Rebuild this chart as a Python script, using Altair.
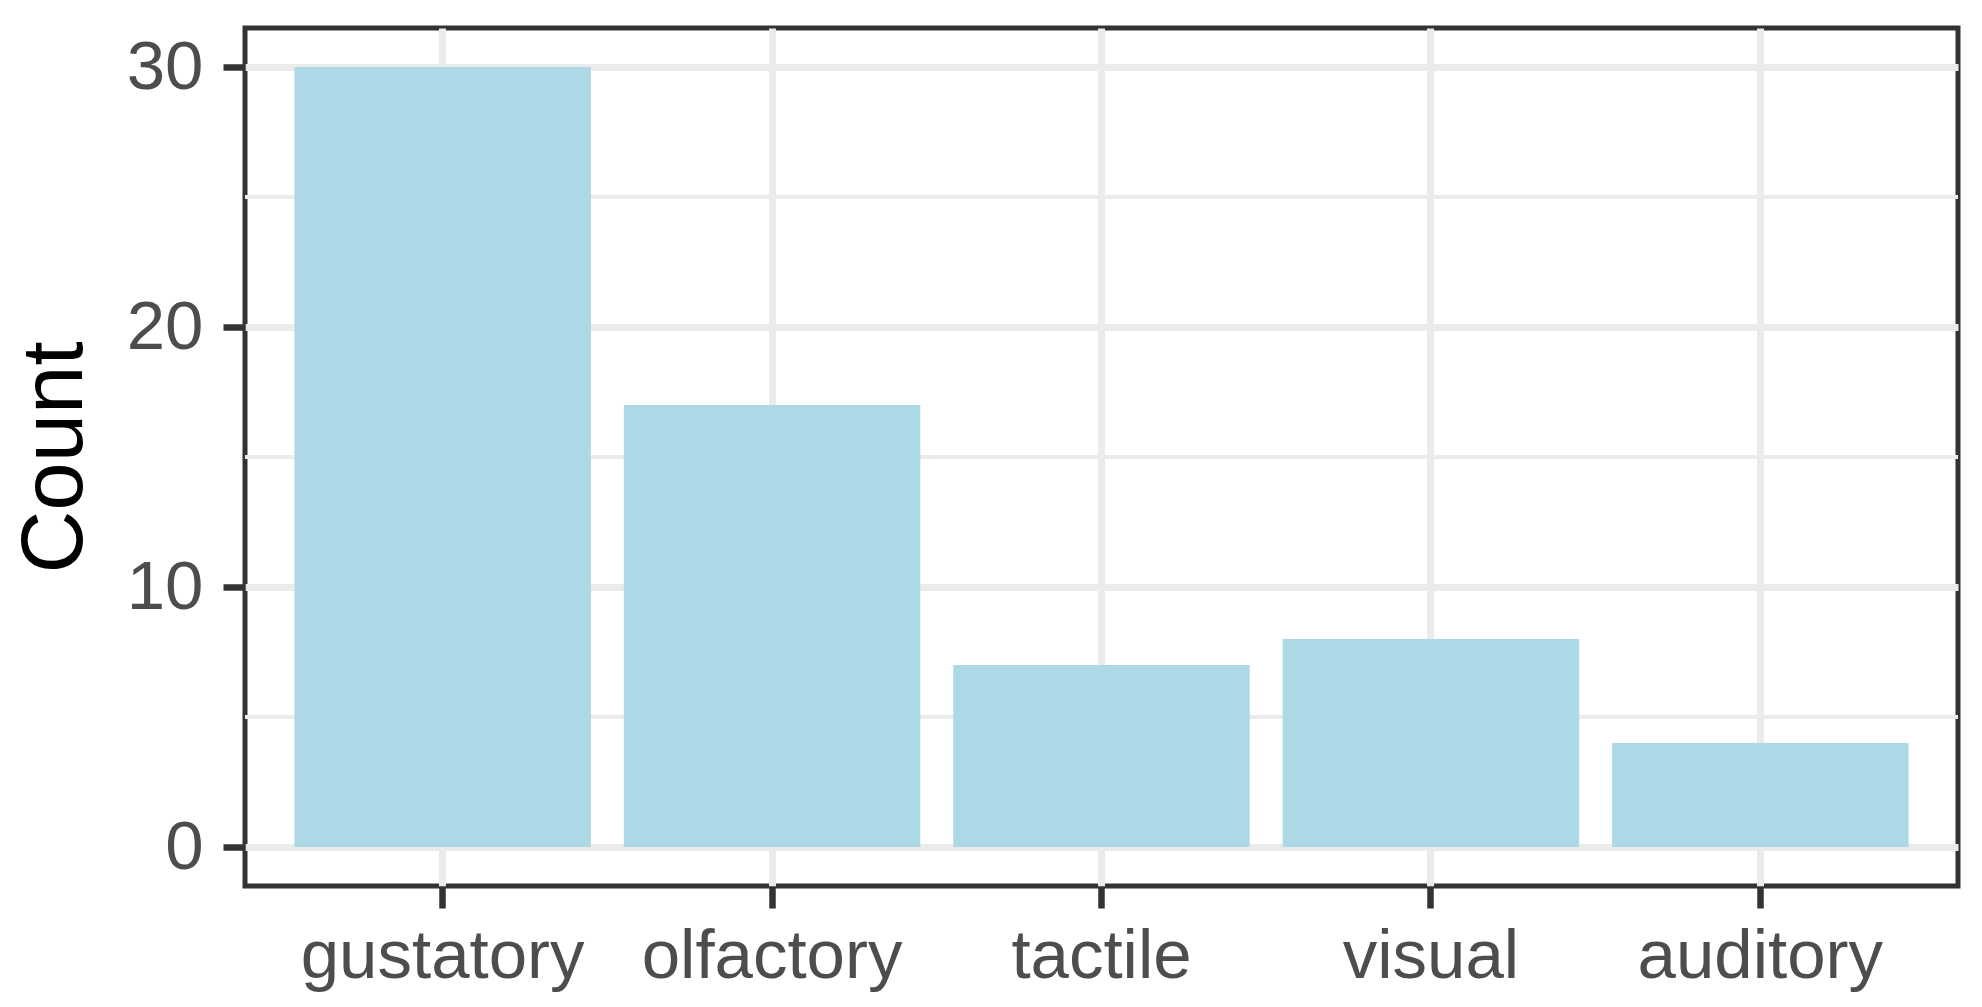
import altair as alt
import pandas as pd

categories = ["gustatory", "olfactory", "tactile", "visual", "auditory"]
counts = [30, 17, 7, 8, 4]
y_ticks = [0, 10, 20, 30]
minor_ticks = [5, 15, 25]

df = pd.DataFrame({"sense": categories, "count": counts})
minor_df = pd.DataFrame({"count": minor_ticks})

W, H = 1713, 858
FONT = "Liberation Sans"

yscale = alt.Scale(domain=[-1.5, 31.5], nice=False, zero=False)
xscale = alt.Scale(domain=categories, paddingInner=0.1, paddingOuter=0.15)

yaxis = alt.Axis(
    title="Count",
    values=y_ticks,
    grid=True,
    gridColor="#EBEBEB",
    gridWidth=7,
    domain=False,
    ticks=True,
    tickSize=22,
    tickWidth=6.5,
    tickColor="#333333",
    labelFont=FONT,
    labelFontSize=69,
    labelColor="#4D4D4D",
    labelPadding=20,
    titleFont=FONT,
    titleFontSize=87,
    titleFontWeight="normal",
    titleColor="#000000",
    titleAngle=-90,
    titleAlign="center",
    titleBaseline="middle",
    titleX=-190,
    titleY=H / 2,
)

minor = alt.Chart(minor_df).mark_rule(color="#EBEBEB", strokeWidth=4).encode(
    y=alt.Y("count:Q", scale=yscale, axis=yaxis),
    x=alt.value(0),
    x2=alt.value(W),
)

bars = alt.Chart(df).mark_bar(color="#ADD8E6").encode(
    x=alt.X(
        "sense:N",
        sort=categories,
        scale=xscale,
        axis=alt.Axis(
            title=None,
            bandPosition=0.5,
            grid=True,
            gridColor="#EBEBEB",
            gridWidth=7,
            domain=False,
            ticks=True,
            tickSize=22,
            tickWidth=6.5,
            tickColor="#333333",
            labelFont=FONT,
            labelFontSize=69,
            labelColor="#4D4D4D",
            labelPadding=14,
            labelAngle=0,
            labelBaseline="top",
            labelLimit=0,
            labelOverlap=False,
        ),
    ),
    y=alt.Y("count:Q", scale=yscale, axis=yaxis),
)

chart = (
    alt.layer(minor, bars)
    .properties(
        width=W,
        height=H,
        autosize=alt.AutoSizeParams(type="none"),
        padding={"left": 245, "top": 28, "right": 24, "bottom": 121},
        background="white",
    )
    .configure_view(stroke="#333333", strokeWidth=5)
)

chart.save("out.html", embed_options={"renderer": "svg", "actions": False})
